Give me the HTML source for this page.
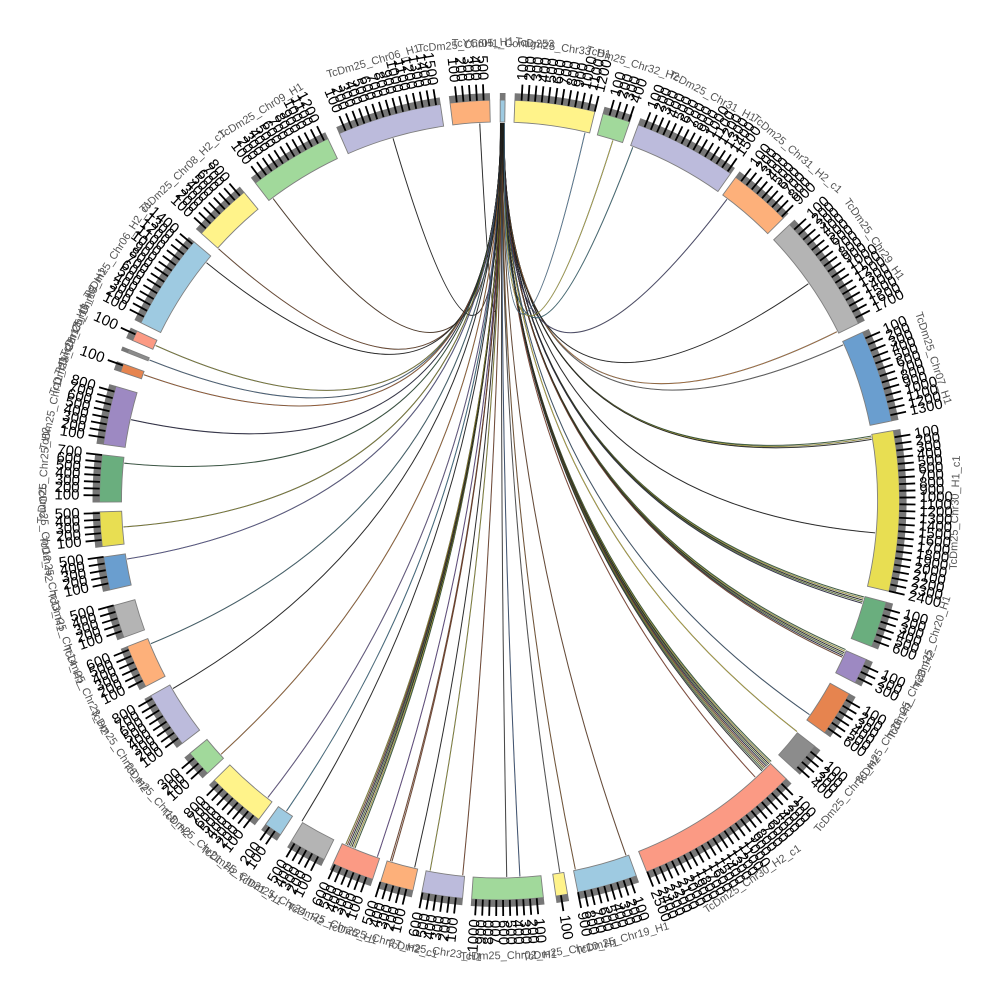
<!DOCTYPE html>
<html><head><meta charset="utf-8">
<style>
html,body{margin:0;padding:0;background:#fff;}
svg{display:block;}
text{font-family:"Liberation Sans",Arial,sans-serif;}
</style></head>
<body>
<svg id="c" width="1000" height="1000" viewBox="0 0 1000 1000" xmlns="http://www.w3.org/2000/svg">
<rect x="0" y="0" width="1000" height="1000" fill="#ffffff"/>
<g id="chords"></g><g id="segs"></g><g id="ticks"></g><g id="labels"></g><g id="names"></g>
</svg>
<script>
const CX=499.5, CY=500, R0=378, R1=400;
const NS="http://www.w3.org/2000/svg";
function P(r,a){const t=a*Math.PI/180;return [CX+r*Math.sin(t), CY-r*Math.cos(t)];}
function el(tag,attrs,parent,txt){const e=document.createElementNS(NS,tag);for(const k in attrs)e.setAttribute(k,attrs[k]);if(txt!==undefined)e.textContent=txt;parent.appendChild(e);return e;}
function f(v){return v.toFixed(2);}
function sector(r0,r1,s,e){
  const large=(e-s)>180?1:0;
  const a=P(r1,s),b=P(r1,e),c=P(r0,e),d=P(r0,s);
  return `M${f(a[0])},${f(a[1])} A${r1},${r1} 0 ${large} 1 ${f(b[0])},${f(b[1])} L${f(c[0])},${f(c[1])} A${r0},${r0} 0 ${large} 0 ${f(d[0])},${f(d[1])} Z`;
}
const segs=[
[0.1,0.8,'#9ecae1','TcYC6H1_Contig253'],
[2.2,13.8,'#fff38a','TcDm25_Chr33_H1'],
[15,19,'#a1d99b','TcDm25_Chr32_H2'],
[20.3,35.3,'#bcbbdc','TcDm25_Chr31_H1'],
[36.2,45.2,'#fdb07a','TcDm25_Chr31_H2_c1'],
[46.5,63.8,'#b4b4b4','TcDm25_Chr29_H1'],
[65.2,78.6,'#6a9ecf','TcDm25_Chr07_H1'],
[80,103.2,'#e8de52','TcDm25_Chr30_H1_c1'],
[104.8,111.5,'#6aae7e','TcDm25_Chr20_H1'],
[113.5,117.2,'#9d89c2','TcDm25_Chr28_H2'],
[119,125.6,'#e6844f','TcDm25_Chr26_H1'],
[128,132.4,'#8c8c8c','TcDm25_Chr30_H2'],
[134.2,158.4,'#fb9a84','TcDm25_Chr30_H2_c1'],
[160,168.7,'#9ecae1','TcDm25_Chr19_H1'],
[170.2,171.9,'#fff38a','TcDm25_Chr10_H1'],
[173.7,184,'#a1d99b','TcDm25_Chr02_H1'],
[185.3,191.2,'#bcbbdc','TcDm25_Chr23_H1'],
[192.5,197.3,'#fdb07a','TcDm25_Chr27_H2_c1'],
[198.5,204.6,'#fb9a84','TcDm25_Chr25_H1'],
[206,211.4,'#b4b4b4','TcDm25_Chr24_H2'],
[213.2,215.8,'#9ecae1','TcDm25_Chr21_H1'],
[217,225.5,'#fff38a','TcDm25_Chr21_H2'],
[226.9,230.7,'#a1d99b','TcDm25_Chr18_H2'],
[232.5,240.7,'#bcbbdc','TcDm25_Chr26_H2'],
[242.2,248.5,'#fdb07a','TcDm25_Chr23_H2'],
[249.9,254.7,'#b4b4b4','TcDm25_Chr14_H1'],
[257,261.8,'#6a9ecf','TcDm25_Chr13_H1'],
[263.3,268.3,'#e8de52','TcDm25_Chr12_H2'],
[269.7,276.5,'#6aae7e','TcDm25_Chr25_H2'],
[278,286.5,'#9d89c2','TcDm25_Chr11_H1'],
[288.7,289.9,'#e6844f','TcDm25_Chr17_H1'],
[291.6,292.1,'#8c8c8c','TcDm25_Chr16_H2'],
[293.5,295,'#fb9a84','TcDm25_Chr15_H1'],
[296.3,310.2,'#9ecae1','TcDm25_Chr06_H2_c1'],
[311.8,320.3,'#fff38a','TcDm25_Chr08_H2_c1'],
[322.4,334.6,'#a1d99b','TcDm25_Chr09_H1'],
[336.4,351.5,'#bcbbdc','TcDm25_Chr06_H1'],
[352.9,358.6,'#fdb07a','TcDm25_Chr05_H1']
];
const TL="100 200 300 400 500 600 700 800 900 1000 1100 1200 1300 1400 1500 1600 1700 1800 1900 2000 2100 2200 2300 2400 2500 2600 2700".split(' ');
const STEP=0.965;
const gS=document.getElementById('segs'),gT=document.getElementById('ticks'),gLb=document.getElementById('labels'),gN=document.getElementById('names'),gC=document.getElementById('chords');

/* chords */
const mix=['#3a6a3a','#c8c040','#222222','#6a8a3a','#2a2a4a','#8a4a2a','#9a9a30','#4a7a4a','#333333'];
const chords=[
[357.0,'#222222',1],[343.6,'#222222',1],[323.1,'#5a3a20',1],[311.8,'#7a4a2a',1],[309.0,'#222222',1],
[294.2,'#8a8a30',1],[291.8,'#4a6a8a',1],[289.4,'#b0602a',1],[282.3,'#2a2a4a',1],[275.6,'#2a5a3a',1],
[265.9,'#8a8a2a',1],[261.0,'#5a5a9a',1],[247.6,'#3a6a7a',1],[240.0,'#222222',1],[227.6,'#b06a2a',1],
[217.9,'#6a5a9a',1],[214.4,'#3a7a9a',1],[211.6,'#222222',1],[203.3,'mix',7],[198.9,'#6a4a9a',1],
[196.7,'#8a4a2a',2],[193.0,'#222222',1],[190.6,'#9a9a30',1],[185.6,'#8a4a2a',1],[178.9,'#444444',1],
[176.9,'#3a5a8a',1],[170.8,'#555555',1],[168.4,'#8a5a2a',1],[160.4,'#7a4a2a',1],[137.3,'#a04a30',1],
[134.9,'mix',9],[127.9,'#c8b830',1],[124.7,'#3a5a7a',1],[114.0,'mix',6],[105.4,'mix',5],
[95.0,'#222222',1],[80.5,'mix',3],[65.7,'#666666',1],[63.5,'#c07a3a',1],[55.0,'#222222',1],
[37.1,'#4a4a7a',1],[20.7,'#3a7a8a',1],[17.5,'#c8c040',1],[13.1,'#5a8ab0',1]
];
let total=0;chords.forEach(c=>total+=c[2]);
let si=0;
chords.forEach(c=>{
  for(let j=0;j<c[2];j++){
    const dst=c[0]+(j-(c[2]-1)/2)*0.25;
    const src=0.15+0.6*(si++/(total-1));
    const col=c[1]==='mix'?mix[j%mix.length]:c[1];
    const p0=P(377,src),p1=P(377,dst);
    const d=`M${f(p0[0])},${f(p0[1])} Q${CX},${CY} ${f(p1[0])},${f(p1[1])}`;
    el('path',{d:d,fill:'none',stroke:'#1b1b1b','stroke-width':1.05,'stroke-opacity':0.75},gC);
    el('path',{d:d,fill:'none',stroke:col,'stroke-width':0.55},gC);
  }
});

/* segments, strips, ticks, labels, names */
segs.forEach(s=>{
  const [a,b,col,name]=s;
  el('path',{d:sector(R0,R1,a,b),fill:col,stroke:'#7f7f7f','stroke-width':0.9},gS);
  el('path',{d:sector(R1,407,a-0.05,b+0.05),fill:'#777777'},gS);
  let k=1;
  while(a+k*STEP<=b+0.05 && k<=TL.length){
    const t=a+k*STEP;
    const p0=P(400,t),p1=P(416,t);
    el('line',{x1:f(p0[0]),y1:f(p0[1]),x2:f(p1[0]),y2:f(p1[1]),stroke:'#000','stroke-width':1.8},gT);
    const q=P(420,t);
    let rot,anch;
    if(t<180){rot=t-90;anch='start';}else{rot=t+90;anch='end';}
    el('text',{x:f(q[0]),y:f(q[1]),'font-size':15,'text-anchor':anch,'dominant-baseline':'central',fill:'#000',transform:`rotate(${f(rot)} ${f(q[0])} ${f(q[1])})`},gLb,TL[k-1]);
    k++;
  }
  const m=(a+b)/2;
  const q=P(456,m);
  const rot=(m<90||m>270)?m:m-180;
  el('text',{x:f(q[0]),y:f(q[1]),'font-size':11,'text-anchor':'middle','dominant-baseline':'central',fill:'#555',transform:`rotate(${f(rot)} ${f(q[0])} ${f(q[1])})`},gN,name);
});
</script>
</body></html>
